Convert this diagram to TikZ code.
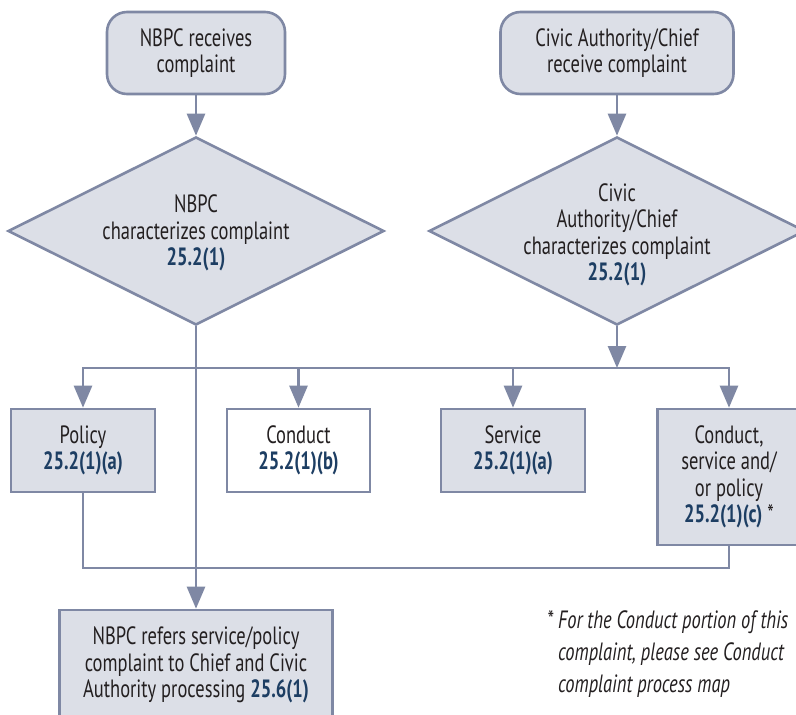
\documentclass[tikz,border=0pt]{standalone}
\usepackage{fontspec}
\setmainfont{PT Sans}[FakeStretch=0.74]
\usetikzlibrary{shapes.geometric,arrows.meta}
\definecolor{boxfill}{RGB}{220,223,231}
\definecolor{edgec}{RGB}{127,136,164}
\definecolor{refblue}{RGB}{29,62,99}
\definecolor{ink}{RGB}{35,31,32}
\newcommand{\refno}[1]{\textcolor{refblue}{\textbf{#1}}}
\tikzset{
  base/.style={draw=edgec, line width=2.6pt, text=ink, font=\fontsize{25}{26.5}\selectfont, align=center, inner sep=0pt},
  term/.style={base, fill=boxfill, rounded corners=20pt, minimum height=82pt},
  boxg/.style={base, fill=boxfill},
  boxw/.style={base, fill=white},
  dia/.style={diamond, draw=edgec, line width=2.6pt, fill=boxfill, inner sep=0pt, minimum width=376pt, minimum height=188pt},
  txt/.style={text=ink, font=\fontsize{25}{26.5}\selectfont, align=center, inner sep=0pt},
  conn/.style={draw=edgec, line width=2.6pt},
  arr/.style={conn, -{Triangle[width=18pt,length=22pt]}},
}
\begin{document}
\begin{tikzpicture}[x=1pt,y=-1pt]
\useasboundingbox (0,0) rectangle (796,715);
\clip (0,0) rectangle (796,715);
\fill[white] (0,0) rectangle (796,715);

% top terminals
\node[term, minimum width=178pt] (t1) at (196,53) {NBPC receives\\complaint};
\node[term, minimum width=233pt] (t2) at (617,53) {Civic Authority/Chief\\receive complaint};

% diamonds
\node[dia] (d1) at (196,231) {};
\node[txt] (d1t) at (196,233) {NBPC\\characterizes complaint\\\refno{25.2(1)}};
\node[dia] (d2) at (617,231) {};
\node[txt] (d2t) at (617,235) {Civic\\Authority/Chief\\characterizes complaint\\\refno{25.2(1)}};

% category boxes
\node[boxg, minimum width=144pt, minimum height=83pt] (p) at (83,450.5) {Policy\\\refno{25.2(1)(a)}};
\node[boxw, minimum width=143pt, minimum height=83pt] (c) at (298.5,450.5) {Conduct\\\refno{25.2(1)(b)}};
\node[boxg, minimum width=144pt, minimum height=83pt] (s) at (513,450.5) {Service\\\refno{25.2(1)(a)}};
\node[boxg, minimum width=143pt, minimum height=136pt] (cs) at (729,477) {Conduct,\\service and/\\or policy\\\refno{25.2(1)(c)} *};

% bottom box
\node[boxg, minimum width=273pt, minimum height=110pt] (r) at (196,665) {NBPC refers service/policy\\complaint to Chief and Civic\\Authority processing \refno{25.6(1)}};

% footnote
\node[anchor=base west, text=ink, font=\fontsize{25}{32}\selectfont\itshape, align=left, inner sep=0pt] (fn) at (558,692)
  {\llap{* }For the Conduct portion of this\\complaint, please see Conduct\\complaint process map};

% connectors
\coordinate (bus) at (617,368);
\coordinate (ret) at (0,568);
\draw[arr] (t1.south) -- (d1.north);
\draw[arr] (t2.south) -- (d2.north);
\draw[arr] (d2.south) -- (bus);
\draw[arr] (bus) -| (p.north);
\draw[arr] (bus) -| (cs.north);
\draw[arr] (c.north |- bus) -- (c.north);
\draw[arr] (s.north |- bus) -- (s.north);
\draw[conn] (p.south) -- (p.south |- ret) -| (cs.south);
\draw[arr] (d1.south) -- (r.north);
\end{tikzpicture}
\end{document}
